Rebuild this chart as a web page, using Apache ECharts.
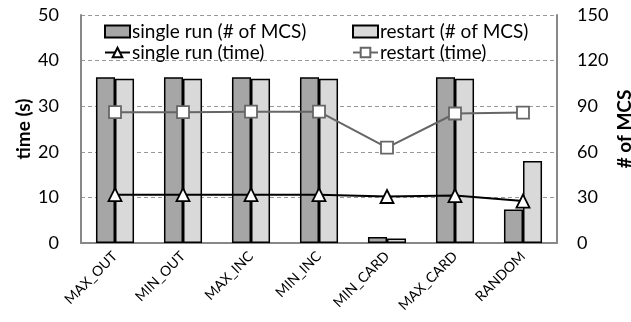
<!DOCTYPE html>
<html><head><meta charset="utf-8">
<script src="https://cdn.jsdelivr.net/npm/echarts@6/dist/echarts.min.js"></script>
<style>html,body{margin:0;padding:0;background:#fff}#c{width:631px;height:322px}</style>
</head><body><div id="c"></div>
<script>
const categories = ['MAX_OUT','MIN_OUT','MAX_INC','MIN_INC','MIN_CARD','MAX_CARD','RANDOM'];
const singleRunMCS = [109,109,109,109,4,109,22];
const restartMCS = [108,108,108,108,3,108,54];
const singleRunTime = [10.6,10.6,10.6,10.6,10.2,10.4,9.2];
const restartTime = [28.7,28.7,28.8,28.8,20.9,28.4,28.6];
const leftTicks = [0,10,20,30,40,50];
const rightTicks = [0,30,60,90,120,150];

const FONT = 'Lato';
const chart = echarts.init(document.getElementById('c'));
const legendText = {fontSize:19,color:'#000',fontFamily:FONT,padding:[0,0,0,-3]};
chart.setOption({
  animation:false,
  textStyle:{fontFamily:FONT},
  grid:{left:81,right:74,top:15,bottom:79,containLabel:false,outerBoundsMode:'none'},
  legend:[
    {orient:'vertical',left:99,top:17,itemGap:2,itemWidth:25,itemHeight:12,textStyle:legendText,
     data:[{name:'single run (# of MCS)',icon:'rect'},'single run (time)']},
    {orient:'vertical',left:347,top:17,itemGap:2,itemWidth:25,itemHeight:12,textStyle:legendText,
     data:[{name:'restart (# of MCS)',icon:'rect'},'restart (time)']}
  ],
  xAxis:{type:'category',data:categories,
    axisLine:{lineStyle:{color:'#888',width:2}},
    axisTick:{inside:true,length:5,lineStyle:{color:'#888'}},
    axisLabel:{rotate:45,fontSize:14,color:'#000',margin:11,fontFamily:FONT}},
  yAxis:[
    {type:'value',min:0,max:50,interval:10,name:'time (s)',nameLocation:'middle',nameGap:48,nameMoveOverlap:false,
     nameTextStyle:{fontSize:19,fontWeight:'bold',color:'#000',fontFamily:FONT},
     axisLine:{show:true,lineStyle:{color:'#888',width:2}},axisTick:{show:false},
     axisLabel:{fontSize:18,color:'#000',margin:22,fontFamily:FONT,
       formatter:v=>leftTicks.includes(v)?String(v):''},
     splitLine:{lineStyle:{color:'#999',type:[4,3],width:1}}},
    {type:'value',min:0,max:150,interval:30,name:'# of MCS',nameLocation:'middle',nameGap:58,nameMoveOverlap:false,
     nameTextStyle:{fontSize:19,fontWeight:'bold',color:'#000',fontFamily:FONT},
     axisLine:{show:true,lineStyle:{color:'#888',width:2}},axisTick:{show:false},
     axisLabel:{fontSize:18,color:'#000',margin:20,fontFamily:FONT,
       formatter:v=>rightTicks.includes(v)?String(v):''},
     splitLine:{show:false}}
  ],
  series:[
    {name:'single run (# of MCS)',type:'bar',yAxisIndex:1,data:singleRunMCS,barGap:'0%',barCategoryGap:'44%',
     itemStyle:{color:'#a6a6a6',borderColor:'#000',borderWidth:1.5}},
    {name:'restart (# of MCS)',type:'bar',yAxisIndex:1,data:restartMCS,
     itemStyle:{color:'#d9d9d9',borderColor:'#000',borderWidth:1.5}},
    {name:'single run (time)',type:'line',yAxisIndex:0,data:singleRunTime,symbol:'triangle',symbolSize:13,
     lineStyle:{color:'#000',width:2},itemStyle:{color:'#fff',borderColor:'#000',borderWidth:1.8}},
    {name:'restart (time)',type:'line',yAxisIndex:0,data:restartTime,symbol:'rect',symbolSize:12,
     lineStyle:{color:'#666',width:2},itemStyle:{color:'#fff',borderColor:'#666',borderWidth:1.8}}
  ]
});
</script></body></html>
